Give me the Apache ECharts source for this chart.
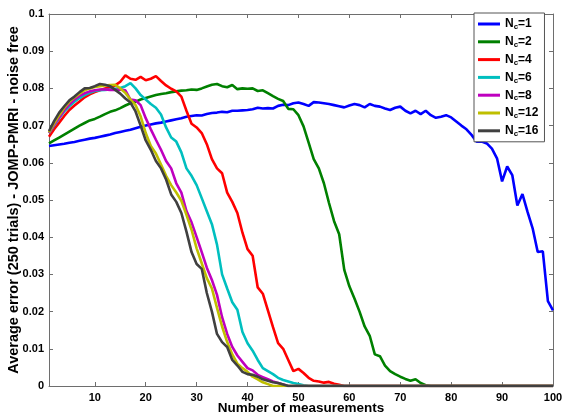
<!DOCTYPE html>
<html><head><meta charset="utf-8">
<script src="https://cdn.jsdelivr.net/npm/echarts@6/dist/echarts.min.js"></script>
<style>html,body{margin:0;padding:0;background:#fff}#c{width:573px;height:414px}</style>
</head><body><div id="c"></div>
<script>
// Number of measurements: 1..100
const nc1 = [0.0645,0.0647,0.0649,0.0651,0.0654,0.0656,0.0659,0.0662,0.0665,0.0667,
0.0670,0.0673,0.0676,0.0680,0.0683,0.0686,0.0689,0.0693,0.0697,0.0700,
0.0703,0.0706,0.0708,0.0711,0.0714,0.0717,0.0720,0.0724,0.0726,0.0728,
0.0727,0.0731,0.0734,0.0735,0.0737,0.0736,0.0740,0.0740,0.0741,0.0742,
0.0744,0.0748,0.0746,0.0747,0.0746,0.0753,0.0756,0.0755,0.0760,0.0762,
0.0758,0.0753,0.0763,0.0762,0.0760,0.0758,0.0755,0.0752,0.0749,0.0754,
0.0758,0.0755,0.0749,0.0758,0.0753,0.0751,0.0746,0.0742,0.0748,0.0751,
0.0740,0.0733,0.0740,0.0731,0.0740,0.0728,0.0721,0.0724,0.0728,0.0722,
0.0711,0.0700,0.0690,0.0675,0.0657,0.0657,0.0652,0.0638,0.0612,0.0550,
0.0590,0.0567,0.0485,0.0516,0.0468,0.0424,0.0360,0.0362,0.0228,0.0203];
const nc2 = [0.0652,0.0660,0.0668,0.0676,0.0684,0.0692,0.0700,0.0707,0.0714,0.0718,
0.0724,0.0731,0.0737,0.0741,0.0747,0.0754,0.0760,0.0764,0.0770,0.0774,
0.0778,0.0782,0.0785,0.0787,0.0790,0.0792,0.0794,0.0795,0.0797,0.0796,
0.0800,0.0805,0.0810,0.0812,0.0806,0.0803,0.0809,0.0798,0.0800,0.0799,
0.0800,0.0793,0.0795,0.0787,0.0779,0.0772,0.0766,0.0745,0.0744,0.0728,
0.0698,0.0654,0.0610,0.0585,0.0545,0.0492,0.0443,0.0408,0.0312,0.0268,
0.0235,0.0200,0.0160,0.0135,0.0085,0.0080,0.0055,0.0040,0.0032,0.0025,
0.0019,0.0014,0.0018,0.0008,0.0002,0,0,0,0,0,
0,0,0,0,0,0,0,0,0,0,
0,0,0,0,0,0,0,0,0,0];
const nc4 = [0.0670,0.0690,0.0708,0.0726,0.0742,0.0754,0.0765,0.0776,0.0784,0.0790,
0.0795,0.0800,0.0803,0.0808,0.0818,0.0835,0.0826,0.0823,0.0831,0.0822,
0.0826,0.0833,0.0820,0.0808,0.0799,0.0792,0.0778,0.0740,0.0705,0.0695,
0.0680,0.0650,0.0610,0.0585,0.0572,0.0520,0.0495,0.0465,0.0412,0.0368,
0.0350,0.0265,0.0248,0.0203,0.0158,0.0115,0.0100,0.0070,0.0040,0.0046,
0.0035,0.0022,0.0014,0.0012,0.0009,0.0011,0.0006,0.0003,0,0,
0,0,0,0,0,0,0,0,0,0,
0,0,0,0,0,0,0,0,0,0,
0,0,0,0,0,0,0,0,0,0,
0,0,0,0,0,0,0,0,0,0];
const nc6 = [0.0680,0.0700,0.0720,0.0738,0.0752,0.0764,0.0774,0.0782,0.0788,0.0793,
0.0795,0.0796,0.0797,0.0799,0.0801,0.0806,0.0814,0.0800,0.0782,0.0770,
0.0758,0.0748,0.0730,0.0695,0.0668,0.0657,0.0628,0.0585,0.0565,0.0540,
0.0505,0.0470,0.0435,0.0380,0.0300,0.0262,0.0225,0.0205,0.0145,0.0115,
0.0095,0.0070,0.0048,0.0040,0.0032,0.0022,0.0016,0.0012,0.0008,0.0005,
0.0002,0,0,0,0,0,0,0,0,0,
0,0,0,0,0,0,0,0,0,0,
0,0,0,0,0,0,0,0,0,0,
0,0,0,0,0,0,0,0,0,0,
0,0,0,0,0,0,0,0,0,0];
const nc8 = [0.0680,0.0702,0.0722,0.0742,0.0757,0.0770,0.0780,0.0787,0.0792,0.0795,
0.0797,0.0797,0.0796,0.0796,0.0797,0.0795,0.0770,0.0768,0.0755,0.0720,
0.0690,0.0662,0.0635,0.0605,0.0585,0.0545,0.0520,0.0470,0.0440,0.0400,
0.0360,0.0318,0.0285,0.0245,0.0185,0.0140,0.0105,0.0082,0.0065,0.0048,
0.0042,0.0030,0.0024,0.0018,0.0012,0.0008,0.0004,0,0,0,
0,0,0,0,0,0,0,0,0,0,
0,0,0,0,0,0,0,0,0,0,
0,0,0,0,0,0,0,0,0,0,
0,0,0,0,0,0,0,0,0,0,
0,0,0,0,0,0,0,0,0,0];
const nc12 = [0.0682,0.0706,0.0728,0.0748,0.0764,0.0776,0.0786,0.0795,0.0800,0.0804,
0.0806,0.0808,0.0809,0.0810,0.0800,0.0788,0.0770,0.0755,0.0725,0.0680,
0.0645,0.0625,0.0595,0.0565,0.0540,0.0520,0.0498,0.0460,0.0420,0.0370,
0.0330,0.0290,0.0262,0.0210,0.0160,0.0118,0.0085,0.0060,0.0048,0.0038,
0.0025,0.0018,0.0010,0.0005,0,0,0,0,0,0,
0,0,0,0,0,0,0,0,0,0,
0,0,0,0,0,0,0,0,0,0,
0,0,0,0,0,0,0,0,0,0,
0,0,0,0,0,0,0,0,0,0,
0,0,0,0,0,0,0,0,0,0];
const nc16 = [0.0685,0.0712,0.0735,0.0752,0.0768,0.0778,0.0790,0.0800,0.0801,0.0806,
0.0812,0.0810,0.0806,0.0796,0.0786,0.0773,0.0762,0.0738,0.0700,0.0660,
0.0635,0.0605,0.0585,0.0555,0.0515,0.0495,0.0465,0.0415,0.0360,0.0328,
0.0315,0.0250,0.0200,0.0140,0.0118,0.0105,0.0070,0.0055,0.0038,0.0032,
0.0030,0.0025,0.0018,0.0014,0.0010,0.0008,0.0004,0,0,0,
0,0,0,0,0,0,0,0,0,0,
0,0,0,0,0,0,0,0,0,0,
0,0,0,0,0,0,0,0,0,0,
0,0,0,0,0,0,0,0,0,0,
0,0,0,0,0,0,0,0,0,0];

const seriesNames = ['N_c=1','N_c=2','N_c=4','N_c=6','N_c=8','N_c=12','N_c=16'];
const seriesData = [nc1, nc2, nc4, nc6, nc8, nc12, nc16];
const seriesColors = ['#0000ff','#008000','#ff0000','#00bfbf','#bf00bf','#bfbf00','#404040'];
const xTicks = [10,20,30,40,50,60,70,80,90,100];
const xTitle = 'Number of measurements';
const yTitle = 'Average error (250 trials) - JOMP-PMRI - noise free';

const FF = '"Liberation Sans", Arial, Helvetica, sans-serif';
const axisGray = '#6e6e6e';
const chart = echarts.init(document.getElementById('c'), null, {renderer:'canvas'});

const baseX = {type:'value', min:1, max:100,
  axisLine:{show:true, onZero:false, lineStyle:{color:axisGray, width:1}},
  axisTick:{show:true, inside:true, length:4, customValues:xTicks, lineStyle:{color:axisGray}},
  splitLine:{show:false}};
const baseY = {type:'value', min:0, max:0.1, interval:0.01,
  axisLine:{show:true, onZero:false, lineStyle:{color:axisGray, width:1}},
  axisTick:{show:true, inside:true, length:4, lineStyle:{color:axisGray}},
  splitLine:{show:false}};

const option = {
  backgroundColor:'#fff',
  animation:false,
  grid:{left:49, right:20, top:14, bottom:28, containLabel:false, outerBoundsMode:'none'},
  xAxis:[
    Object.assign({}, baseX, {position:'bottom',
      axisLabel:{show:true, customValues:xTicks, color:'#000', fontFamily:FF, fontWeight:'bold', fontSize:11, margin:6},
      name:xTitle, nameLocation:'middle', nameGap:15, nameMoveOverlap:false,
      nameTextStyle:{color:'#000', fontFamily:FF, fontWeight:'bold', fontSize:13.5, verticalAlign:'top'}}),
    Object.assign({}, baseX, {position:'top', axisLabel:{show:false}})
  ],
  yAxis:[
    Object.assign({}, baseY, {position:'left',
      axisLabel:{show:true, color:'#000', fontFamily:FF, fontWeight:'bold', fontSize:11, margin:5,
        formatter: v => String(+v.toFixed(2))},
      name:yTitle, nameLocation:'middle', nameGap:28, nameRotate:90, nameMoveOverlap:false,
      nameTextStyle:{color:'#000', fontFamily:FF, fontWeight:'bold', fontSize:14.5}}),
    Object.assign({}, baseY, {position:'right', axisLabel:{show:false}})
  ],
  legend:{
    show:true, orient:'vertical', left:474, top:13,
    backgroundColor:'#fff', borderColor:'#555', borderWidth:1, padding:[5,6,4,4],
    icon:'rect', itemWidth:22, itemHeight:3, itemGap:4.8,
    data: seriesNames,
    formatter: name => {
      const p = name.split('_c');
      return '{n|' + p[0] + '}{s|c}{n|' + p[1] + '}';
    },
    textStyle:{
      color:'#000', fontFamily:FF, fontWeight:'bold', fontSize:12,
      rich:{
        n:{fontFamily:FF, fontWeight:'bold', fontSize:12, color:'#000', lineHeight:14, verticalAlign:'middle'},
        s:{fontFamily:FF, fontWeight:'bold', fontSize:8, color:'#000', lineHeight:6, verticalAlign:'bottom'}
      }
    }
  },
  series: seriesNames.map((nm, k) => ({
    name:nm, type:'line', xAxisIndex:0, yAxisIndex:0,
    data: seriesData[k].map((v, i) => [i + 1, v]),
    symbol:'none', showSymbol:false,
    lineStyle:{color:seriesColors[k], width:2.6},
    itemStyle:{color:seriesColors[k]},
    z: 2 + k, silent:true
  }))
};
chart.setOption(option);
</script>
</body></html>
